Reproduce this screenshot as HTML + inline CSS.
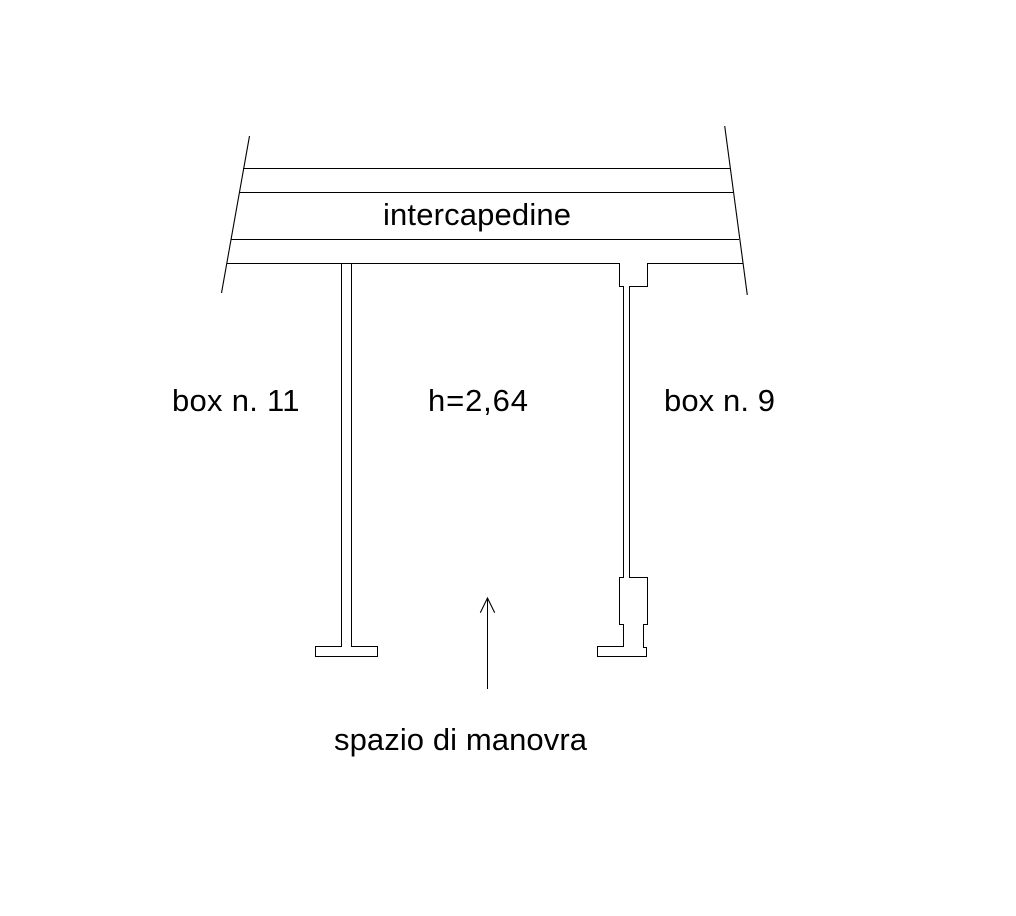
<!DOCTYPE html>
<html>
<head>
<meta charset="utf-8">
<style>
html,body{margin:0;padding:0;background:#fff;width:1016px;height:916px;overflow:hidden}
svg{display:block}
text{font-family:"Liberation Sans",Arial,sans-serif;font-size:31px;fill:#000}
.c{fill:none;stroke:#000;stroke-width:1;shape-rendering:crispEdges}
.s{fill:none;stroke:#000;stroke-width:1.1}
</style>
</head>
<body>
<svg width="1016" height="916" viewBox="0 0 1016 916" xmlns="http://www.w3.org/2000/svg">
<rect width="1016" height="916" fill="#fff"/>
<line class="s" x1="249.5" y1="136" x2="221.5" y2="293"/>
<line class="s" x1="724.7" y1="126" x2="747.3" y2="295"/>
<path class="c" d="M243 168.5H730M239.5 192.5H733M231 239.5H739M227 263.5H619.5V286.5H623.5V577.5H619.5V624.5H623.5V646.5H597.5V656.5H646.5V647.5H643.5V624.5H647.5V577.5H629.5V286.5H647.5V263.5H743"/>
<path class="c" d="M341.5 263.5V646.5H315.5V656.5H377.5V646.5H351.5V263.5"/>
<line class="c" x1="487.5" y1="598" x2="487.5" y2="689"/>
<path class="s" d="M480.3 612.7L487.5 598L494.7 612.7"/>
<text x="383" y="225" textLength="188" lengthAdjust="spacing">intercapedine</text>
<text x="172" y="411" textLength="127.5" lengthAdjust="spacing">box n. 11</text>
<text x="428" y="411" textLength="100" lengthAdjust="spacing">h=2,64</text>
<text x="664" y="411" textLength="111" lengthAdjust="spacing">box n. 9</text>
<text x="334" y="750" textLength="253" lengthAdjust="spacing">spazio di manovra</text>
</svg>
</body>
</html>
